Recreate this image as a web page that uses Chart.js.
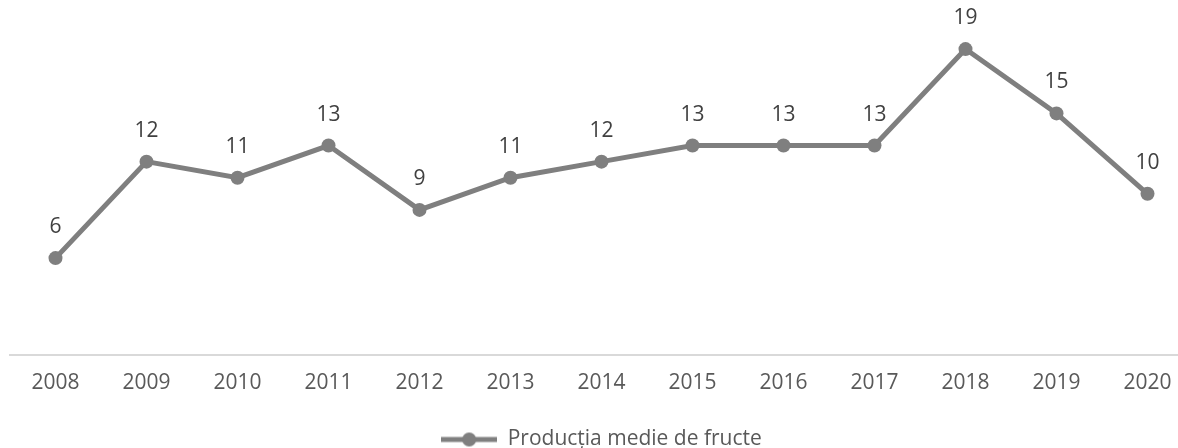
<!DOCTYPE html>
<html>
<head>
<meta charset="utf-8">
<script src="https://cdn.jsdelivr.net/npm/chart.js@4/dist/chart.umd.min.js"></script>
<style>
  body { margin: 0; background: #fff; overflow: hidden; }
  #wrap { width: 1210px; height: 448px; overflow: hidden; }
</style>
</head>
<body>
<div id="wrap"><canvas id="fructeChart" width="1210" height="460"></canvas></div>
<script>
const ani = ["2008", "2009", "2010", "2011", "2012", "2013", "2014", "2015", "2016", "2017", "2018", "2019", "2020"];
const productie = [6, 12, 11, 13, 9, 11, 12, 13, 13, 13, 19, 15, 10];
const numeSerie = "Producția medie de fructe";

const GRI = "#7f7f7f";
const FONT = "'Open Sans', sans-serif";

// marker for the legend: a short line with a dot in the middle
function markerLegenda() {
  let c = document.createElement("canvas");
  c.width = 56;
  c.height = 16;
  let g = c.getContext("2d");
  g.strokeStyle = GRI;
  g.lineWidth = 5;
  g.beginPath();
  g.moveTo(0, 8);
  g.lineTo(56, 8);
  g.stroke();
  g.fillStyle = GRI;
  g.beginPath();
  g.arc(28, 8, 7, 0, Math.PI * 2);
  g.fill();
  return c;
}

// writes each value above its point
const etichete = {
  id: "etichete",
  afterDatasetsDraw(chart) {
    let ctx = chart.ctx;
    let meta = chart.getDatasetMeta(0);
    ctx.save();
    ctx.font = "21px " + FONT;
    ctx.fillStyle = "#404040";
    ctx.textAlign = "center";
    ctx.textBaseline = "middle";
    meta.data.forEach(function (pt, i) {
      ctx.fillText(String(chart.data.datasets[0].data[i]), pt.x, pt.y - 31);
    });
    ctx.restore();
  }
};

const marker = markerLegenda();

new Chart(document.getElementById("fructeChart"), {
  type: "line",
  data: {
    labels: ani,
    datasets: [
      {
        label: numeSerie,
        data: productie,
        borderColor: GRI,
        backgroundColor: GRI,
        borderWidth: 5,
        pointRadius: 7,
        pointHoverRadius: 7,
        pointBorderWidth: 0,
        pointBackgroundColor: GRI,
        pointStyle: "circle",
        tension: 0
      }
    ]
  },
  options: {
    responsive: false,
    animation: false,
    layout: {
      padding: { left: 10, right: 17, top: 33, bottom: 0 }
    },
    scales: {
      x: {
        offset: true,
        grid: { display: false },
        border: { display: true, color: "#d9d9d9", width: 2 },
        ticks: {
          color: "#595959",
          font: { family: FONT, size: 21 },
          padding: 8,
          maxRotation: 0,
          autoSkip: false
        }
      },
      y: {
        display: false,
        min: 0,
        max: 20
      }
    },
    plugins: {
      legend: {
        position: "bottom",
        // empty title only adds space above the legend row
        title: {
          display: true,
          text: " ",
          font: { size: 1 },
          padding: { top: 8, bottom: 8 }
        },
        labels: {
          usePointStyle: true,
          pointStyle: marker,
          pointStyleWidth: 56,
          color: "#595959",
          font: { family: FONT, size: 21 },
          padding: 8
        }
      },
      tooltip: { enabled: false }
    }
  },
  plugins: [etichete]
});
</script>
</body>
</html>
